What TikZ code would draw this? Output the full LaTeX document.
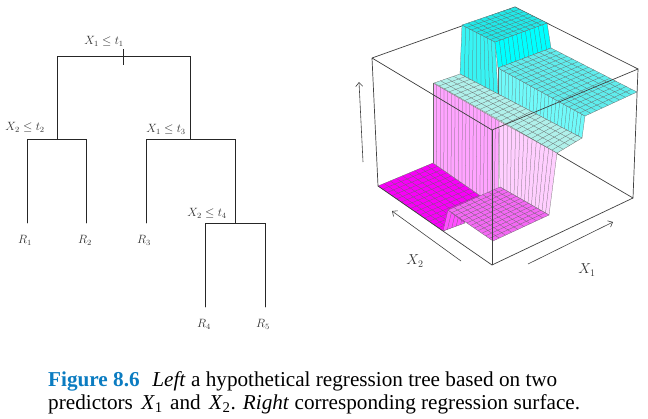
\documentclass[tikz,border=0pt]{standalone}
\usepackage{amsmath}
\usepackage{fontspec}
\setmainfont{Liberation Serif}
\usetikzlibrary{arrows.meta,calc}
\definecolor{CapBlue}{HTML}{0B7CC1}
\definecolor{TopTeal}{HTML}{20E8E8}
\definecolor{WallCyan}{HTML}{00FFFF}
\definecolor{WallAqua}{HTML}{38F4F4}
\definecolor{MidTeal}{HTML}{60ECEC}
\definecolor{PaleAqua}{HTML}{70FAFA}
\definecolor{StepPale}{HTML}{B0F0EA}
\definecolor{FloorHot}{HTML}{F800F8}
\definecolor{StepHot}{HTML}{FF50FF}
\definecolor{FloorMid}{HTML}{F468F4}
\definecolor{WallPink}{HTML}{FFA4FF}
\definecolor{WallLight}{HTML}{FFCFFF}
\tikzset{
  branch/.style={line width=0.9pt,black!85,line cap=round},
  lab/.style={inner sep=0pt,black!80,font=\fontsize{11.5}{13}\selectfont},
  boxline/.style={line width=0.7pt,black!75},
  axisarrow/.style={line width=0.6pt,black!75,-{Straight Barb[length=4pt,width=7pt]}},
  meshline/.style={line width=0.25pt,black!60},
  caption/.style={anchor=base west,inner sep=0pt,font=\fontsize{21.2}{24}\selectfont}
}
\newcommand{\surfpatch}[7]{
  \coordinate (pa) at #2;
  \coordinate (pb) at #3;
  \coordinate (pc) at #4;
  \coordinate (pd) at #5;
  \fill[#1] (pa) -- (pb) -- (pc) -- (pd) -- cycle;
  \foreach \i in {0,...,#6} {
    \pgfmathsetmacro\tu{\i/#6}
    \draw[meshline] ($(pa)!\tu!(pb)$) -- ($(pd)!\tu!(pc)$);
  }
  \foreach \i in {0,...,#7} {
    \pgfmathsetmacro\tu{\i/#7}
    \draw[meshline] ($(pa)!\tu!(pd)$) -- ($(pb)!\tu!(pc)$);
  }
}
\begin{document}
\begin{tikzpicture}[x=1pt,y=-1pt]
  \useasboundingbox (0,0) rectangle (648,418);
  % tree
  \coordinate (rootl) at (57,56);
  \coordinate (rootr) at (190,56);
  \coordinate (left) at (57,139);
  \coordinate (right) at (190,139);
  \coordinate (leftl) at (27,139);
  \coordinate (leftr) at (86,139);
  \coordinate (rightl) at (146,139);
  \coordinate (rightr) at (235,139);
  \coordinate (low) at (235,223);
  \coordinate (lowl) at (205,223);
  \coordinate (lowr) at (265,223);
  \coordinate (leafa) at (27,223);
  \coordinate (leafb) at (86,223);
  \coordinate (leafc) at (146,223);
  \coordinate (leafd) at (205,307);
  \coordinate (leafe) at (265,307);
  \coordinate (ticktop) at (123,49);
  \coordinate (tickbot) at (123,65);
  \draw[branch] (left) -- (rootl) -- (rootr) -- (right);
  \draw[branch] (leafa) -- (leftl) -- (leftr) -- (leafb);
  \draw[branch] (leafc) -- (rightl) -- (rightr) -- (low);
  \draw[branch] (leafd) -- (lowl) -- (lowr) -- (leafe);
  \draw[line width=0.7pt,black!85] (ticktop) -- (tickbot);
  \node[lab] (splita) at (104,41) {$X_1\leq t_1$};
  \node[lab] (splitb) at (25,127) {$X_2\leq t_2$};
  \node[lab] (splitc) at (166,129) {$X_1\leq t_3$};
  \node[lab] (splitd) at (207,213) {$X_2\leq t_4$};
  \node[lab] (rega) at (25,240) {$R_1$};
  \node[lab] (regb) at (85,240) {$R_2$};
  \node[lab] (regc) at (144,240) {$R_3$};
  \node[lab] (regd) at (204,324) {$R_4$};
  \node[lab] (rege) at (263,324) {$R_5$};
  % box, back edges
  \coordinate (tl) at (372,58);
  \coordinate (tf) at (492,130);
  \coordinate (tr) at (638,69);
  \coordinate (tb) at (515,7);
  \coordinate (bl) at (378,186);
  \coordinate (bf) at (492,265);
  \coordinate (br) at (633,198);
  \coordinate (bb) at (517,130);
  \draw[boxline] (tl) -- (tb) -- (tr);
  \draw[boxline] (br) -- (bb);
  % surface
  \surfpatch{FloorHot}{(378,186)}{(433,163)}{(498,208)}{(443,231)}{9}{14}
  \surfpatch{WallPink}{(433,83)}{(499,121)}{(498,208)}{(433,163)}{18}{1}
  \surfpatch{WallLight}{(499,121)}{(557,153)}{(549,215)}{(500,187)}{14}{1}
  \surfpatch{StepHot}{(443,231)}{(448,210)}{(465,223)}{(465,223)}{1}{5}
  \surfpatch{FloorMid}{(448,210)}{(500,187)}{(549,215)}{(493,241)}{9}{12}
  \surfpatch{WallAqua}{(462,25)}{(495,42)}{(498,94)}{(460,74)}{9}{1}
  \surfpatch{PaleAqua}{(498,68)}{(585,116)}{(582,138)}{(498,94)}{24}{1}
  \surfpatch{StepPale}{(434,83)}{(460,74)}{(582,138)}{(557,153)}{4}{24}
  \surfpatch{WallCyan}{(495,42)}{(547,23)}{(551,48)}{(498,68)}{12}{1}
  \surfpatch{MidTeal}{(498,68)}{(551,48)}{(637,92)}{(585,116)}{9}{16}
  \surfpatch{TopTeal}{(462,25)}{(515,7)}{(547,23)}{(495,42)}{9}{7}
  % box, front edges
  \draw[boxline] (tl) -- (tf) -- (tr) -- (br) -- (bf) -- (bl) -- (tl);
  \draw[boxline] (tf) -- (bf);
  % axes
  \coordinate (zfrom) at (363,162);
  \coordinate (zto) at (359,82);
  \coordinate (bfrom) at (461,261);
  \coordinate (bto) at (392,211);
  \coordinate (afrom) at (528,264);
  \coordinate (ato) at (613,222);
  \draw[axisarrow] (zfrom) -- (zto);
  \draw[axisarrow] (bfrom) -- (bto);
  \draw[axisarrow] (afrom) -- (ato);
  \node[lab,font=\fontsize{14}{16}\selectfont] (axisb) at (415,261) {$X_2$};
  \node[lab,font=\fontsize{14}{16}\selectfont] (axisa) at (587,270) {$X_1$};
  % caption
  \node[caption] (capa) at (48,386) {\textcolor{CapBlue}{\textbf{Figure 8.6}}\hspace{0.6em}\textit{Left} a hypothetical regression tree based on two};
  \node[caption] (capb) at (48,409) {predictors\hspace{3pt} \textit{X}\textsubscript{1}\hspace{2pt} and\hspace{3pt} \textit{X}\textsubscript{2}. \textit{Right} corresponding regression surface.};
\end{tikzpicture}
\end{document}
